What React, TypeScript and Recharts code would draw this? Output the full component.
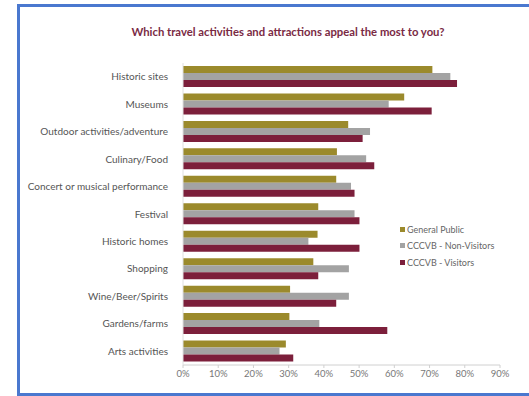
import { BarChart, Bar, XAxis, YAxis } from 'recharts';

const categories = [
    'Historic sites',
    'Museums',
    'Outdoor activities/adventure',
    'Culinary/Food',
    'Concert or musical performance',
    'Festival',
    'Historic homes',
    'Shopping',
    'Wine/Beer/Spirits',
    'Gardens/farms',
    'Arts activities',
];

const generalPublic = [70.8, 62.8, 46.9, 43.7, 43.5, 38.4, 38.2, 37.0, 30.4, 30.2, 29.2];
const nonVisitors = [75.9, 58.4, 53.1, 52.0, 47.7, 48.7, 35.6, 47.1, 47.1, 38.7, 27.4];
const visitors = [77.8, 70.6, 51.0, 54.3, 48.7, 50.1, 50.1, 38.4, 43.5, 58.0, 31.3];

const xTicks = [0, 10, 20, 30, 40, 50, 60, 70, 80, 90];

const series = [
    { key: 'general', name: 'General Public', color: '#9b8a2c' },
    { key: 'nonVisitors', name: 'CCCVB - Non-Visitors', color: '#a3a3a3' },
    { key: 'visitors', name: 'CCCVB - Visitors', color: '#7c1f3b' },
];

const data = categories.map((c, i) => ({
    category: c,
    general: generalPublic[i],
    nonVisitors: nonVisitors[i],
    visitors: visitors[i],
}));

const font = 'Lato, "Open Sans", sans-serif';

// plain text tick so long labels don't wrap
function CategoryTick({ x, y, payload }: any) {
    return (
        <text x={x - 7} y={y} dy={3.5} textAnchor="end" fontSize={10} fill="#555" fontFamily={font}>
            {payload.value}
        </text>
    );
}

export default function App() {
    return (
        <div style={{ position: 'absolute', left: 0, top: 0, width: 529, height: 396, overflow: 'hidden', background: '#fff' }}>
            <div
                style={{
                    position: 'absolute',
                    left: 17,
                    top: 4,
                    width: 560,
                    height: 386,
                    border: '3px solid #4a78cf',
                }}
            />
            <div
                style={{
                    position: 'absolute',
                    left: 0,
                    top: 25,
                    width: 576,
                    textAlign: 'center',
                    fontFamily: font,
                    fontSize: 11.3,
                    fontWeight: 700,
                    color: '#7a2a44',
                }}
            >
                Which travel activities and attractions appeal the most to you?
            </div>
            <div style={{ position: 'absolute', left: 0, top: 0 }}>
                <BarChart
                    width={529}
                    height={396}
                    data={data}
                    layout="vertical"
                    margin={{ top: 63, right: 29, bottom: 11, left: 0 }}
                    barGap={0}
                    barSize={7}
                >
                    <XAxis
                        type="number"
                        domain={[0, 90]}
                        ticks={xTicks}
                        tickFormatter={(v) => `${v}%`}
                        axisLine={{ stroke: '#d0d0d0' }}
                        tickLine={{ stroke: '#d0d0d0' }}
                        tickSize={3}
                        tick={{ fontSize: 9.5, fill: '#777', fontFamily: font }}
                        height={20}
                    />
                    <YAxis
                        type="category"
                        dataKey="category"
                        width={183}
                        axisLine={{ stroke: '#e0e0e0' }}
                        tickLine={false}
                        tick={<CategoryTick />}
                        interval={0}
                    />
                    {series.map((s) => (
                        <Bar key={s.key} dataKey={s.key} name={s.name} fill={s.color} isAnimationActive={false} />
                    ))}
                </BarChart>
            </div>
            <div style={{ position: 'absolute', left: 400, top: 221, fontFamily: font, fontSize: 9, color: '#666' }}>
                {series.map((s) => (
                    <div key={s.key} style={{ display: 'flex', alignItems: 'center', height: 16.5 }}>
                        <span style={{ width: 5, height: 5, background: s.color, marginRight: 2 }} />
                        {s.name}
                    </div>
                ))}
            </div>
        </div>
    );
}
